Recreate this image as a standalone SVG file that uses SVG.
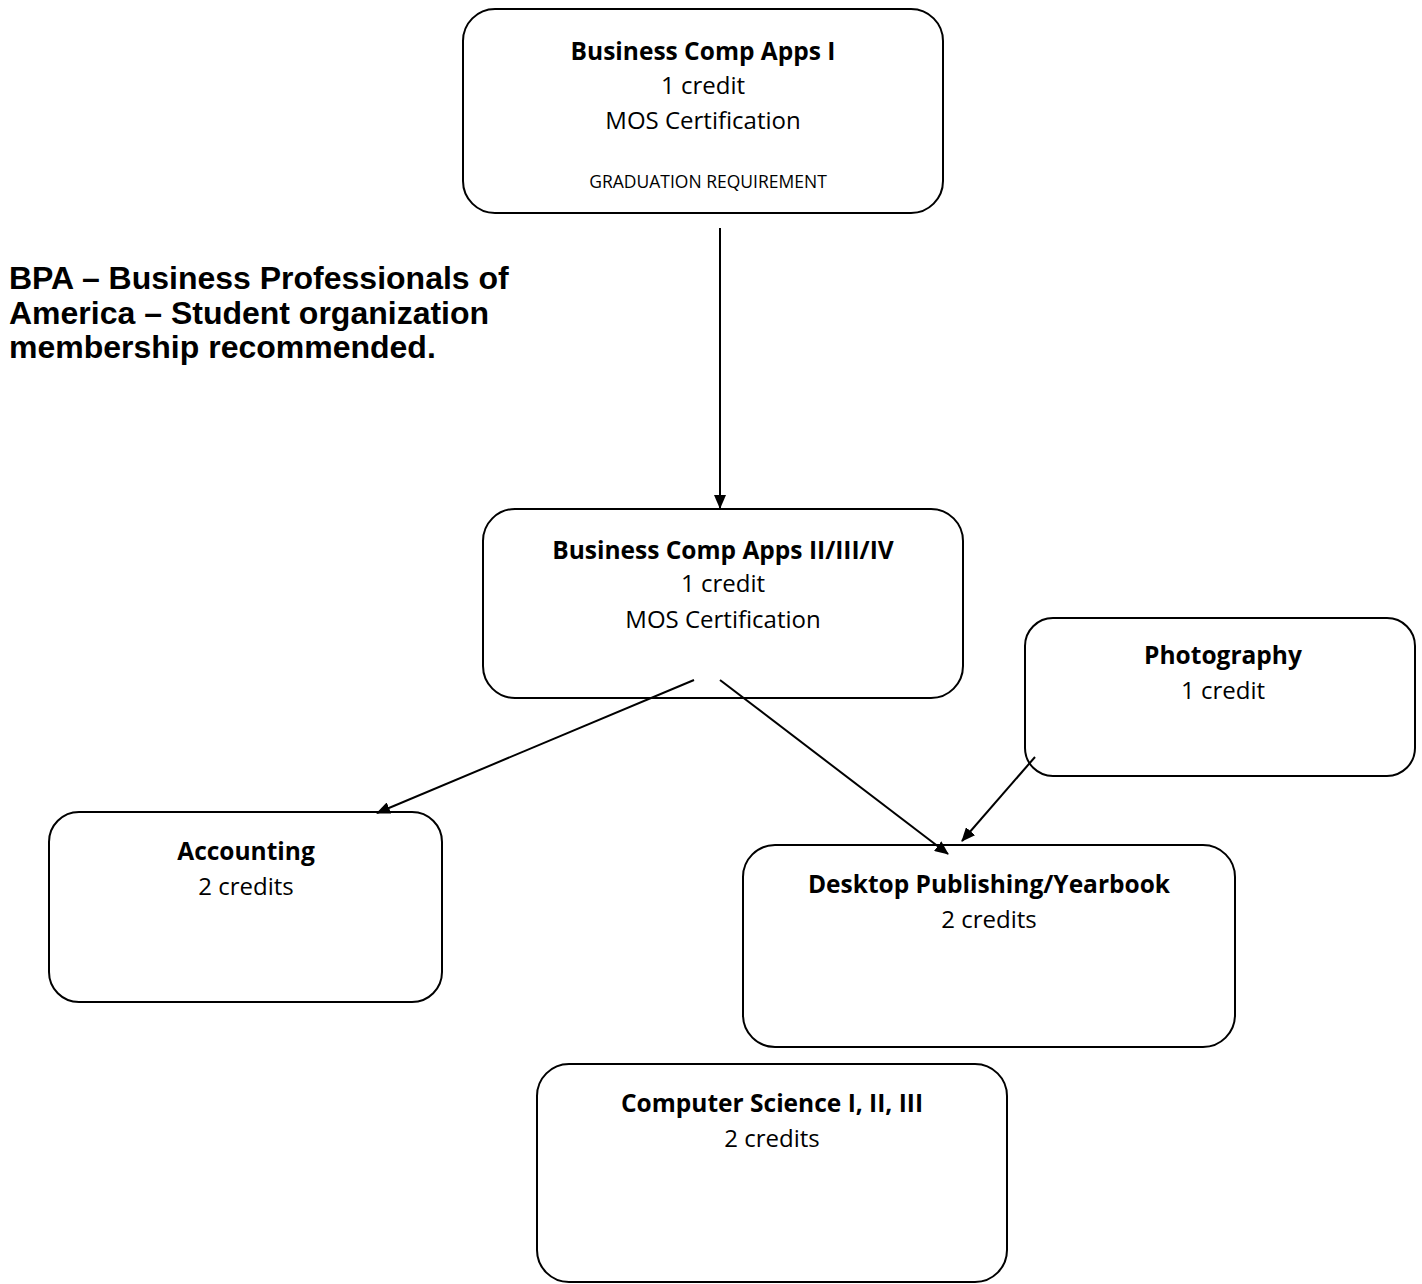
<svg xmlns="http://www.w3.org/2000/svg" width="1422" height="1284" viewBox="0 0 1422 1284">
<style>
.box{fill:#fff;stroke:#000;stroke-width:2}
.t{font-family:"Open Sans","Liberation Sans",sans-serif;font-size:24px;text-anchor:middle;fill:#000}
.b{font-weight:bold;font-size:24.5px}
.s{font-size:17.5px}
.bpa{font-family:"Liberation Sans",Arial,sans-serif;font-weight:bold;font-size:32px;fill:#000}
.c{stroke:#000;stroke-width:2;fill:none;marker-end:url(#ah)}
</style>
<defs>
<marker id="ah" markerWidth="14" markerHeight="12" refX="13" refY="6" orient="auto" markerUnits="userSpaceOnUse">
<path d="M0,0 L14,6 L0,12 Z" fill="#000"/>
</marker>
</defs>
<rect width="1422" height="1284" fill="#fff"/>
<g id="n1">
<rect class="box" x="463" y="9" width="480" height="204" rx="32"/>
<text class="t b" x="703" y="60">Business Comp Apps I</text>
<text class="t" x="703" y="94">1 credit</text>
<text class="t" x="703" y="129">MOS Certification</text>
<text class="t s" x="708" y="188">GRADUATION REQUIREMENT</text>
</g>
<g id="bpa">
<text class="bpa" x="9" y="289">BPA – Business Professionals of</text>
<text class="bpa" x="9" y="323.5">America – Student organization</text>
<text class="bpa" x="9" y="358">membership recommended.</text>
</g>
<g id="n2">
<rect class="box" x="483" y="509" width="480" height="189" rx="32"/>
<text class="t b" x="723" y="559">Business Comp Apps II/III/IV</text>
<text class="t" x="723" y="592">1 credit</text>
<text class="t" x="723" y="628">MOS Certification</text>
</g>
<g id="n3">
<rect class="box" x="1025" y="618" width="390" height="158" rx="28"/>
<text class="t b" x="1223" y="664">Photography</text>
<text class="t" x="1223" y="699">1 credit</text>
</g>
<g id="n4">
<rect class="box" x="49" y="812" width="393" height="190" rx="30"/>
<text class="t b" x="246" y="860">Accounting</text>
<text class="t" x="246" y="895">2 credits</text>
</g>
<g id="n5">
<rect class="box" x="743" y="845" width="492" height="202" rx="32"/>
<text class="t b" x="989" y="893">Desktop Publishing/Yearbook</text>
<text class="t" x="989" y="928">2 credits</text>
</g>
<g id="n6">
<rect class="box" x="537" y="1064" width="470" height="218" rx="32"/>
<text class="t b" x="772" y="1112">Computer Science I, II, III</text>
<text class="t" x="772" y="1147">2 credits</text>
</g>
<g id="connectors">
<line class="c" x1="720" y1="228" x2="720" y2="508"/>
<line class="c" x1="694" y1="680" x2="377" y2="813"/>
<line class="c" x1="720" y1="680" x2="948" y2="854"/>
<line class="c" x1="1035" y1="757" x2="962" y2="841"/>
</g>
</svg>
